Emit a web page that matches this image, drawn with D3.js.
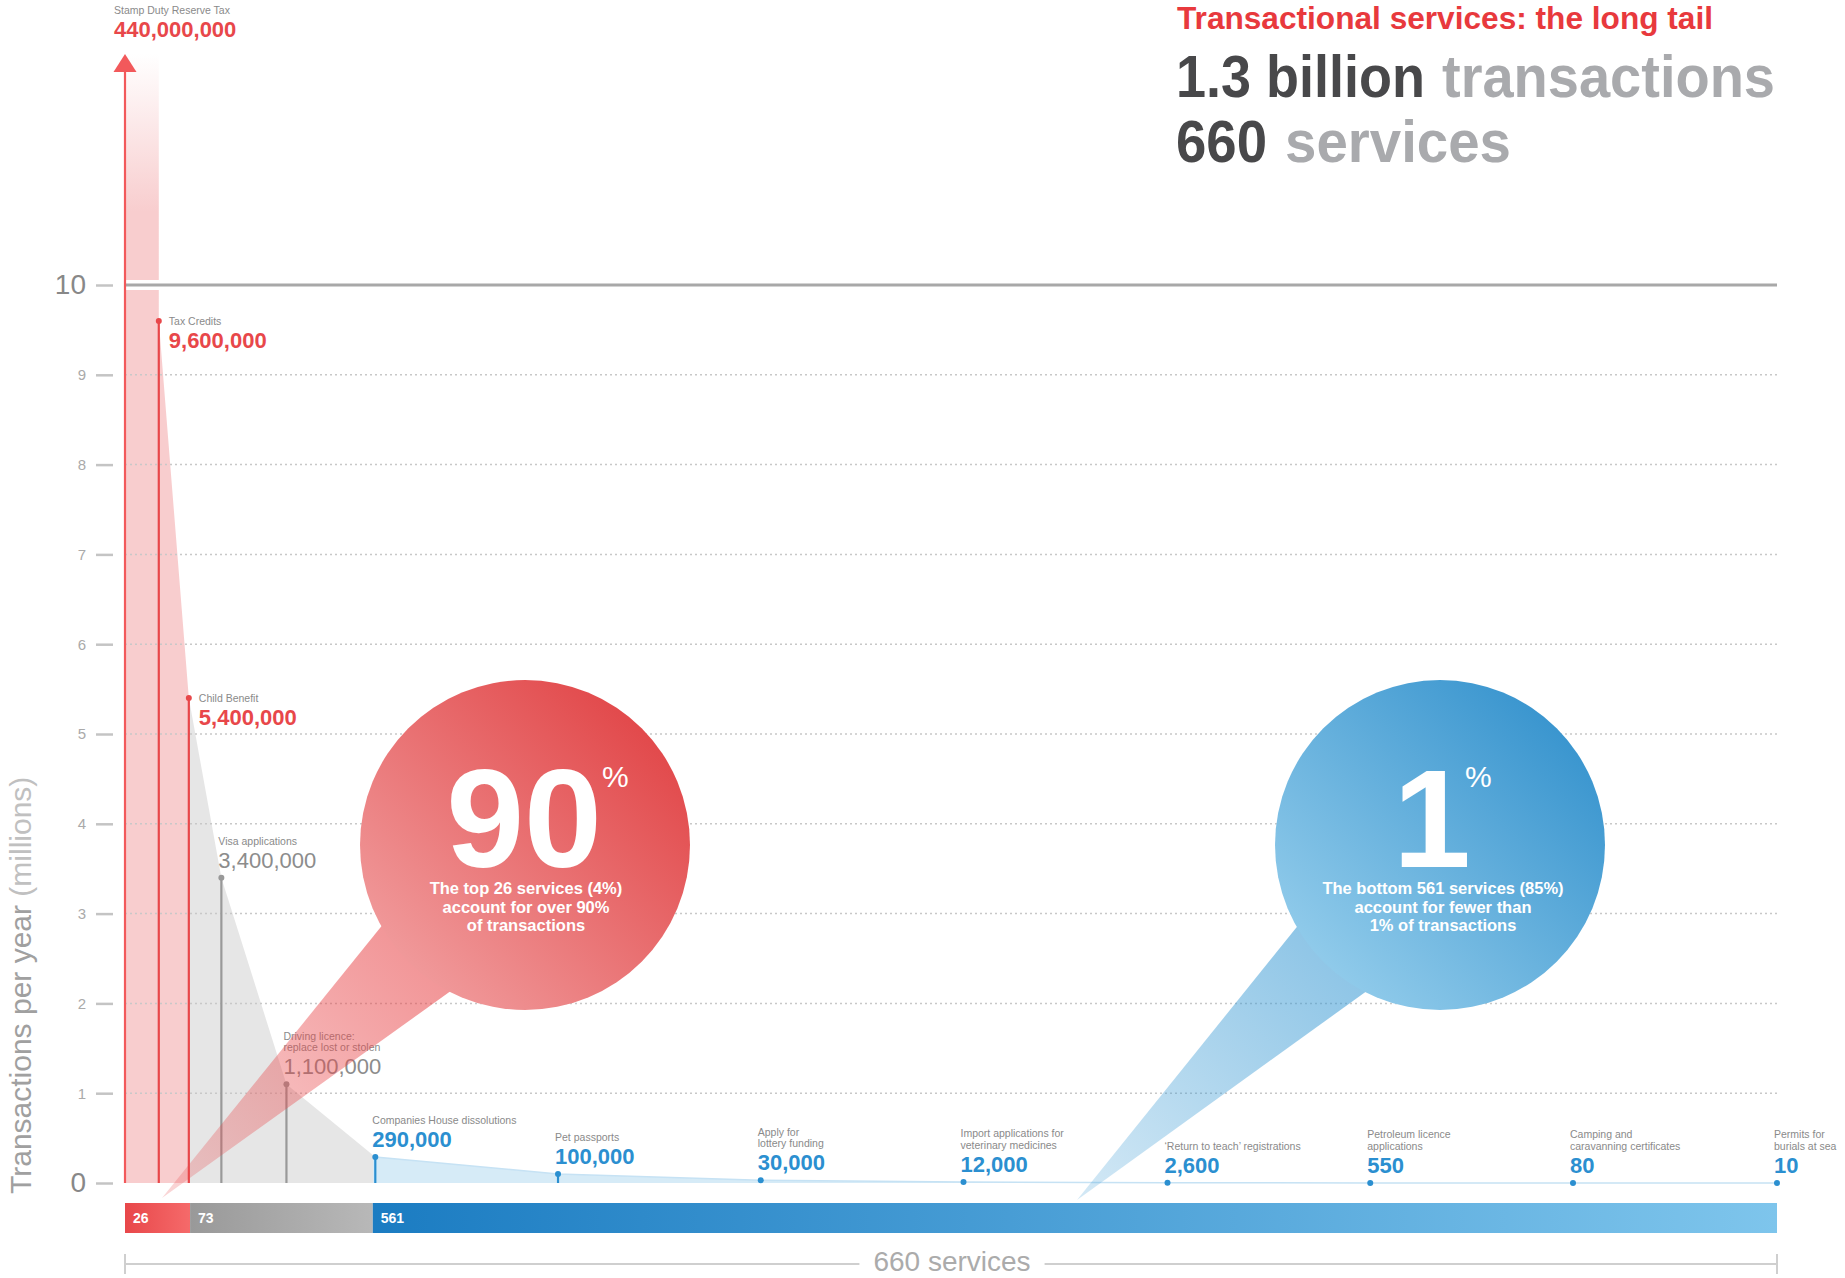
<!DOCTYPE html>
<html>
<head>
<meta charset="utf-8">
<script src="https://cdn.jsdelivr.net/npm/d3@7"></script>
<style>
  body { margin: 0; background: #fff; }
  svg text { font-family: "Liberation Sans", Arial, Helvetica, sans-serif; }
</style>
</head>
<body>
<div id="chart"></div>
<script>
// ---- data ----
var serviceNames = [
    'Stamp Duty Reserve Tax',
    'Tax Credits',
    'Child Benefit',
    'Visa applications',
    'Driving licence:|replace lost or stolen',
    'Companies House dissolutions',
    'Pet passports',
    'Apply for|lottery funding',
    'Import applications for|veterinary medicines',
    '\u2018Return to teach\u2019 registrations',
    'Petroleum licence|applications',
    'Camping and|caravanning certificates',
    'Permits for|burials at sea'
];
var transactions = [440000000, 9600000, 5400000, 3400000, 1100000, 290000, 100000, 30000, 12000, 2600, 550, 80, 10];
// position of each labelled service in the ranking (0 = busiest, 660 = last)
var serviceRank = [0, 13.5, 25.5, 38.5, 64.5, 100, 173, 254, 335, 416.5, 497.5, 578.5, 660];

var groupLabels = ['26', '73', '561'];
var groupCounts = [26, 73, 561];
var totalServices = 660;
var yTicks = [0, 1, 2, 3, 4, 5, 6, 7, 8, 9, 10];

// ---- layout / style ----
var width = 1845, height = 1278;
var arrowTop = 54;
var red = '#e8474a', grey = '#8c8c8c', blue = '#2b8fd0';
var groupColor = [red, '#999999', blue];

var x = d3.scaleLinear().domain([0, totalServices]).range([125, 1777]);
var y = d3.scaleLinear().domain([0, 10]).range([1183, 285]);

var bounds = Array.from(d3.cumsum(groupCounts));
var starts = [0].concat(bounds.slice(0, -1));
function groupOf(rank) {
    return rank < bounds[0] ? 0 : (rank < bounds[1] ? 1 : 2);
}

var points = serviceNames.map(function(n, i) {
    return {
        name: n.split('|'),
        value: transactions[i] / 1e6,
        raw: transactions[i],
        rank: serviceRank[i],
        group: groupOf(serviceRank[i])
    };
});

var svg = d3.select('#chart').append('svg')
    .attr('width', width)
    .attr('height', height);

var defs = svg.append('defs');

// horizontal fill for the area: pink / grey / light blue
var areaGrad = defs.append('linearGradient')
    .attr('id', 'areaFill')
    .attr('gradientUnits', 'userSpaceOnUse')
    .attr('x1', x(0)).attr('x2', x(totalServices))
    .attr('y1', 0).attr('y2', 0);
var f1 = bounds[0] / totalServices, f2 = bounds[1] / totalServices;
[[0, '#f8cdce'], [f1, '#f8cdce'], [f1, '#e6e6e6'], [f2, '#e6e6e6'], [f2, '#d6ebf7'], [1, '#d6ebf7']]
    .forEach(function(s) {
        areaGrad.append('stop').attr('offset', s[0]).attr('stop-color', s[1]);
    });

// fading top of the off-scale bar
var barGrad = defs.append('linearGradient')
    .attr('id', 'topBarFill')
    .attr('gradientUnits', 'userSpaceOnUse')
    .attr('x1', 0).attr('x2', 0)
    .attr('y1', arrowTop).attr('y2', y(0));
barGrad.append('stop').attr('offset', 0).attr('stop-color', '#f8cdce').attr('stop-opacity', 0);
barGrad.append('stop').attr('offset', 0.14).attr('stop-color', '#f8cdce').attr('stop-opacity', 1);
barGrad.append('stop').attr('offset', 1).attr('stop-color', '#f8cdce').attr('stop-opacity', 1);

// ---- areas ----
svg.append('rect')
    .attr('x', x(0))
    .attr('y', arrowTop)
    .attr('width', x(points[1].rank) - x(0))
    .attr('height', y(0) - arrowTop)
    .attr('fill', 'url(#topBarFill)');

var area = d3.area()
    .x(function(d) { return x(d.rank); })
    .y0(y(0))
    .y1(function(d) { return y(d.value); });

svg.append('path')
    .datum(points.slice(1))
    .attr('d', area)
    .attr('fill', 'url(#areaFill)');

var blueLine = d3.line()
    .x(function(d) { return x(d.rank); })
    .y(function(d) { return y(d.value); });
svg.append('path')
    .datum(points.filter(function(d) { return d.group === 2; }))
    .attr('d', blueLine)
    .attr('fill', 'none')
    .attr('stroke', '#c6e2f4')
    .attr('stroke-width', 1.5);

// ---- grid ----
svg.append('g')
    .selectAll('line')
    .data(yTicks.filter(function(t) { return t > 0 && t < 10; }))
    .enter()
    .append('line')
    .attr('x1', x(0)).attr('x2', x(totalServices))
    .attr('y1', function(d) { return y(d); })
    .attr('y2', function(d) { return y(d); })
    .attr('stroke', '#c8c8c8')
    .attr('stroke-width', 1.5)
    .attr('stroke-dasharray', '2,3');

svg.append('line')
    .attr('x1', x(0) - 2).attr('x2', x(totalServices))
    .attr('y1', y(10)).attr('y2', y(10))
    .attr('stroke', '#fff').attr('stroke-width', 10);
svg.append('line')
    .attr('x1', x(0)).attr('x2', x(totalServices))
    .attr('y1', y(10)).attr('y2', y(10))
    .attr('stroke', '#a8a8a8').attr('stroke-width', 3);

// ---- y axis ----
var yAxis = svg.append('g')
    .attr('transform', 'translate(113,0)')
    .call(d3.axisLeft(y).tickValues(yTicks).tickSize(17).tickPadding(10).tickFormat(d3.format('d')));
yAxis.select('.domain').remove();
yAxis.selectAll('.tick line').attr('stroke', '#c4c4c4').attr('stroke-width', 2.5);
yAxis.selectAll('.tick text')
    .attr('fill', function(d) { return (d === 0 || d === 10) ? '#888' : '#aaa'; })
    .style('font-size', function(d) { return (d === 0 || d === 10) ? '28px' : '15px'; });

var yTitle = svg.append('text')
    .attr('transform', 'translate(31,1194) rotate(-90)')
    .style('font-size', '30px');
yTitle.append('tspan').attr('fill', '#a0a0a0').text('Transactions per year ');
yTitle.append('tspan').attr('fill', '#c0c0c0').text('(millions)');

// ---- service stems ----
function py(d) { return d.value > 10 ? arrowTop : y(d.value); }

svg.append('g')
    .selectAll('line')
    .data(points)
    .enter()
    .append('line')
    .attr('x1', function(d) { return x(d.rank); })
    .attr('x2', function(d) { return x(d.rank); })
    .attr('y1', y(0))
    .attr('y2', function(d) { return d.value > 10 ? arrowTop + 10 : py(d); })
    .attr('stroke', function(d) { return d.value > 10 ? '#f2595b' : groupColor[d.group]; })
    .attr('stroke-width', 2.2);

svg.append('path')
    .attr('d', 'M' + (x(0) - 11.5) + ',' + (arrowTop + 18) + 'L' + (x(0) + 11.5) + ',' + (arrowTop + 18) + 'L' + x(0) + ',' + arrowTop + 'Z')
    .attr('fill', '#f2595b');

svg.append('g')
    .selectAll('circle')
    .data(points.filter(function(d) { return d.value <= 10; }))
    .enter()
    .append('circle')
    .attr('cx', function(d) { return x(d.rank); })
    .attr('cy', function(d) { return py(d); })
    .attr('r', 3)
    .attr('fill', function(d) { return groupColor[d.group]; });

// ---- labels ----
var fmt = d3.format(',');
var labels = svg.append('g').selectAll('g').data(points).enter().append('g')
    .attr('transform', function(d) {
        var lx, vy;
        if (d.value > 10) { lx = x(d.rank) - 11; vy = py(d) - 17; }
        else if (d.group === 0) { lx = x(d.rank) + 10; vy = py(d) + 27; }
        else { lx = x(d.rank) - 3; vy = py(d) - 10; }
        return 'translate(' + lx + ',' + vy + ')';
    });

labels.append('text')
    .attr('fill', function(d) { return d.group === 1 ? grey : (d.group === 0 ? red : blue); })
    .style('font-size', '22px')
    .style('font-weight', function(d) { return d.group === 1 ? 400 : 700; })
    .text(function(d) { return fmt(d.raw); });

labels.each(function(d) {
    var g = d3.select(this);
    var n = d.name.length;
    d.name.forEach(function(line, i) {
        g.append('text')
            .attr('y', -23 - (n - 1 - i) * 11.5)
            .attr('fill', '#8a8a8a')
            .style('font-size', '10.5px')
            .text(line);
    });
});

// ---- bottom bar ----
var segGrad = [['#e8474a', '#f56a6a'], ['#999999', '#b8b8b8'], ['#1b7cc2', '#7ec5ec']];
groupCounts.forEach(function(c, i) {
    var g = defs.append('linearGradient').attr('id', 'seg' + i);
    g.append('stop').attr('offset', 0).attr('stop-color', segGrad[i][0]);
    g.append('stop').attr('offset', 1).attr('stop-color', segGrad[i][1]);
});

var seg = svg.append('g').selectAll('g').data(groupCounts).enter().append('g');
seg.append('rect')
    .attr('x', function(d, i) { return x(starts[i]); })
    .attr('y', 1203)
    .attr('width', function(d, i) { return x(starts[i] + d) - x(starts[i]); })
    .attr('height', 30)
    .attr('fill', function(d, i) { return 'url(#seg' + i + ')'; });
seg.append('text')
    .attr('x', function(d, i) { return x(starts[i]) + 8; })
    .attr('y', 1223)
    .attr('fill', '#fff')
    .style('font-size', '14px')
    .style('font-weight', 700)
    .text(function(d, i) { return groupLabels[i]; });

// bracket
var bracketY = 1264;
var bt = svg.append('text')
    .attr('x', (x(0) + x(totalServices)) / 2 + 1)
    .attr('y', 1271)
    .attr('text-anchor', 'middle')
    .attr('fill', '#ababab')
    .style('font-size', '28px')
    .text(totalServices + ' services');
var bb = bt.node().getBBox();
[[x(0), bb.x - 14], [bb.x + bb.width + 14, x(totalServices)]].forEach(function(s) {
    svg.append('line')
        .attr('x1', s[0]).attr('x2', s[1])
        .attr('y1', bracketY).attr('y2', bracketY)
        .attr('stroke', '#cfcfcf').attr('stroke-width', 2);
});
[x(0), x(totalServices)].forEach(function(v) {
    svg.append('line')
        .attr('x1', v).attr('x2', v)
        .attr('y1', bracketY - 10).attr('y2', bracketY + 10)
        .attr('stroke', '#cfcfcf').attr('stroke-width', 2);
});

// ---- callout bubbles ----
var bubbles = [
    { cx: 525, cy: 845, r: 165, tip: [162, 1198], e1: [380, 928], e2: [448, 993],
      c1: '#e24a4c', c2: '#f09899', pc: '#e8474a', big: '90', bigX: 524, pctX: 602,
      lines: ['The top 26 services (4%)', 'account for over 90%', 'of transactions'], tx: 526 },
    { cx: 1440, cy: 845, r: 165, tip: [1077, 1200], e1: [1296, 928], e2: [1364, 993],
      c1: '#3b96cf', c2: '#8fcaea', pc: '#3a9ad4', big: '1', bigX: 1432, pctX: 1465,
      lines: ['The bottom 561 services (85%)', 'account for fewer than', '1% of transactions'], tx: 1443 }
];

bubbles.forEach(function(b, i) {
    var pg = defs.append('linearGradient').attr('id', 'ptr' + i)
        .attr('gradientUnits', 'userSpaceOnUse')
        .attr('x1', b.tip[0]).attr('y1', b.tip[1])
        .attr('x2', b.cx).attr('y2', b.cy);
    pg.append('stop').attr('offset', 0).attr('stop-color', b.pc).attr('stop-opacity', 0.22);
    pg.append('stop').attr('offset', 0.75).attr('stop-color', b.pc).attr('stop-opacity', 0.6);

    var cg = defs.append('linearGradient').attr('id', 'bub' + i)
        .attr('x1', 0.85).attr('y1', 0.15).attr('x2', 0.15).attr('y2', 0.85);
    cg.append('stop').attr('offset', 0).attr('stop-color', b.c1);
    cg.append('stop').attr('offset', 1).attr('stop-color', b.c2);

    var k = 1.3;
    var a = [b.tip[0] + (b.e1[0] - b.tip[0]) * k, b.tip[1] + (b.e1[1] - b.tip[1]) * k];
    var c = [b.tip[0] + (b.e2[0] - b.tip[0]) * k, b.tip[1] + (b.e2[1] - b.tip[1]) * k];
    svg.append('path')
        .attr('d', 'M' + b.tip + 'L' + a + 'L' + c + 'Z')
        .attr('fill', 'url(#ptr' + i + ')');

    svg.append('circle')
        .attr('cx', b.cx).attr('cy', b.cy).attr('r', b.r)
        .attr('fill', 'url(#bub' + i + ')');

    svg.append('text')
        .attr('x', b.bigX).attr('y', 867)
        .attr('text-anchor', 'middle')
        .attr('fill', '#fff')
        .style('font-size', '140px')
        .style('font-weight', 700)
        .text(b.big);
    svg.append('text')
        .attr('x', b.pctX).attr('y', 787)
        .attr('fill', '#fff')
        .style('font-size', '30px')
        .text('%');
    b.lines.forEach(function(l, j) {
        svg.append('text')
            .attr('x', b.tx).attr('y', 894 + j * 18.5)
            .attr('text-anchor', 'middle')
            .attr('fill', '#fff')
            .style('font-size', '16.5px')
            .style('font-weight', 700)
            .text(l);
    });
});

// ---- headline ----
function head(txt, xx, yy, size, color, len) {
    svg.append('text')
        .attr('x', xx).attr('y', yy)
        .attr('fill', color)
        .attr('textLength', len)
        .attr('lengthAdjust', 'spacingAndGlyphs')
        .style('font-size', size + 'px')
        .style('font-weight', 700)
        .text(txt);
}
head('Transactional services: the long tail', 1177, 29, 31, '#e8393d', 536);
head('1.3 billion', 1176, 97, 60, '#48484a', 249);
head('transactions', 1442, 97, 60, '#a9aaad', 333);
head('660', 1176, 162, 60, '#48484a', 91);
head('services', 1285, 162, 60, '#a9aaad', 226);
</script>
</body>
</html>
